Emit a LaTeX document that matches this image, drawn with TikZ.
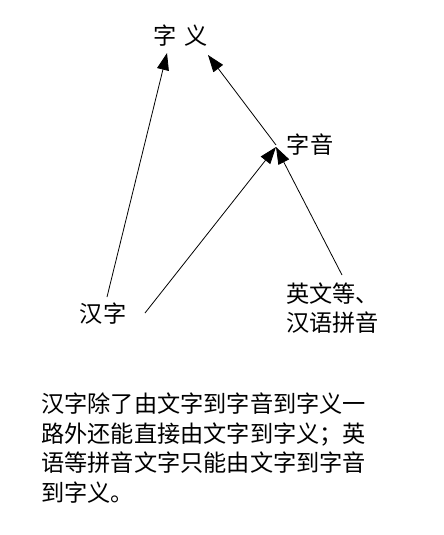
\documentclass[tikz,border=0pt]{standalone}
\usepackage{fontspec}
\setmainfont{Noto Sans CJK SC}
\usetikzlibrary{arrows.meta}
\begin{document}
\begin{tikzpicture}[x=1pt,y=-1pt,
  lbl/.style={inner sep=0pt,font=\fontsize{23.2}{29.5}\selectfont,align=left},
  conn/.style={line width=0.8pt,-{Triangle[length=17pt,width=12pt]}}]
\useasboundingbox (0,0) rectangle (444,535);
\node[lbl] (zy) at (181,36) {字\,\,义};
\node[lbl] (zyin) at (310,145) {字音};
\node[lbl] (hz) at (103,314) {汉字};
\node[lbl,anchor=west] (yw) at (286,308) {英文等、\\汉语拼音};
\node[lbl,anchor=west] (note) at (41,448) {汉字除了由文字到字音到字义一\\路外还能直接由文字到字义；英\\语等拼音文字只能由文字到字音\\到字义。};
\coordinate (hzA) at (107,297);
\coordinate (hzB) at (145,313);
\coordinate (ywA) at (342,275);
\coordinate (zyL) at (167,53);
\coordinate (zyR) at (208,55);
\coordinate (zyinIn) at (276,147);
\coordinate (zyinOut) at (276,145);
\draw[conn] (hzA) -- (zyL);
\draw[conn] (hzB) -- (zyinIn);
\draw[conn] (ywA) -- (zyinIn);
\draw[conn] (zyinOut) -- (zyR);
\end{tikzpicture}
\end{document}
